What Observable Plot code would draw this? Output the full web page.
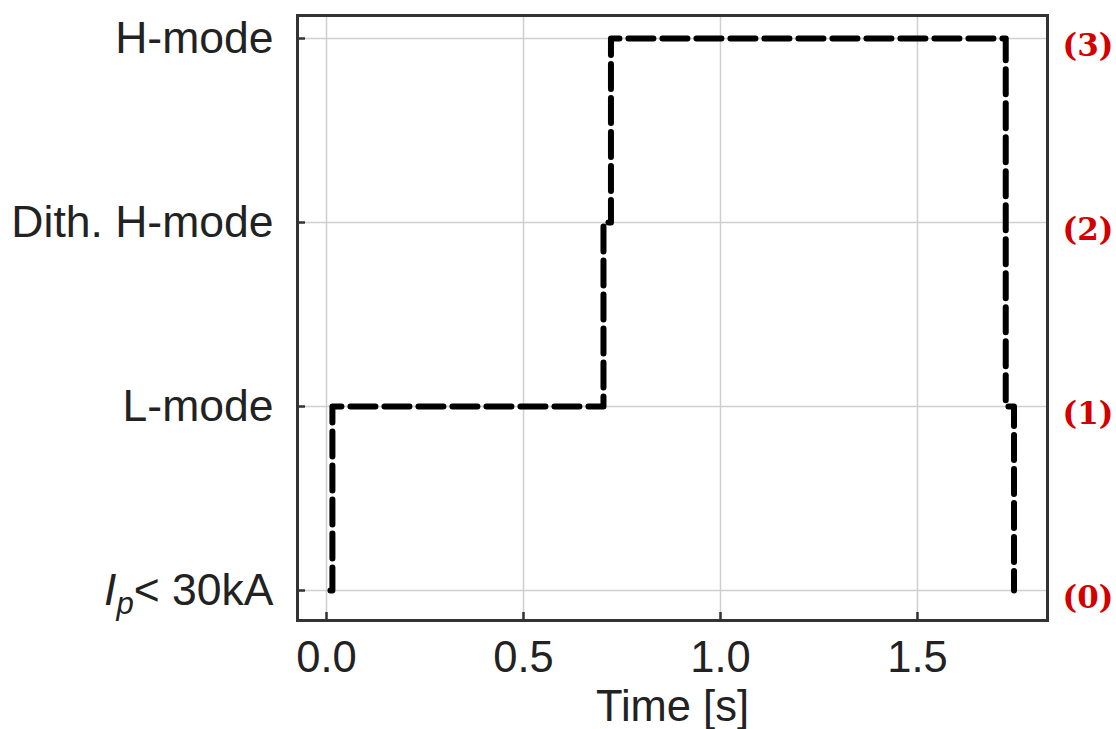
<!DOCTYPE html>
<html><head><meta charset="utf-8">
<script src="https://cdn.jsdelivr.net/npm/d3@7"></script>
<script src="https://cdn.jsdelivr.net/npm/@observablehq/plot@0.6"></script>
<style>body{margin:0;background:#fff;}</style>
</head><body><div id="chart"></div>
<script>
const times = [0.010, 0.015, 0.703, 0.722, 1.724, 1.745];
const states = [0, 1, 2, 3, 1, 0];
const xTicks = [0, 0.5, 1.0, 1.5];
const yTicks = [0, 1, 2, 3];
const yTickLabels = ["Ip< 30kA", "L-mode", "Dith. H-mode", "H-mode"];
const rightLabels = ["(0)", "(1)", "(2)", "(3)"];
const xLabel = "Time [s]";

const data = times.map((t, i) => ({t, s: states[i]}));
const W = 1116, H = 729, mL = 297, mR = 69, mT = 15, mB = 109;
const pw = W - mL - mR, ph = H - mT - mB;

const chart = Plot.plot({
  width: W, height: H,
  marginLeft: mL, marginRight: mR, marginTop: mT, marginBottom: mB,
  style: {fontFamily: "'Liberation Sans', Arial, sans-serif", background: "#fff", color: "#222"},
  x: {domain: [-0.0736, 1.830]},
  y: {domain: [-0.163, 3.125]},
  marks: [
    Plot.gridX(xTicks, {stroke: "#cfcfcf", strokeOpacity: 1, strokeWidth: 1.5}),
    Plot.gridY(yTicks, {stroke: "#cfcfcf", strokeOpacity: 1, strokeWidth: 1.5}),
    Plot.line(data, {x: "t", y: "s", curve: "step-after", stroke: "#000", strokeWidth: 6, strokeDasharray: "25,9"}),
    Plot.tickX(xTicks, {x: d => d, insetTop: ph - 8, stroke: "#333", strokeWidth: 2.5}),
    Plot.tickY(yTicks, {y: d => d, insetRight: pw - 8, stroke: "#333", strokeWidth: 2.5}),
    Plot.axisX(xTicks, {tickSize: 0, tickPadding: 21, fontSize: 43.5, tickFormat: d => d.toFixed(1), label: null, fill: "#222"}),
    Plot.axisY(yTicks, {tickSize: 0, tickPadding: 24, fontSize: 44.5, tickFormat: d => yTickLabels[d], label: null, fill: "#222"}),
    Plot.text(yTicks, {y: d => d, frameAnchor: "right", dx: 15, dy: 8, textAnchor: "start", text: d => rightLabels[d], fill: "#d40000", fontWeight: "bold", fontFamily: "'DejaVu Serif', serif", fontSize: 31}),
    Plot.text([xLabel], {frameAnchor: "bottom", dy: 100, lineAnchor: "bottom", text: d => d, fontSize: 43.5, fill: "#222"}),
    Plot.frame({stroke: "#333", strokeWidth: 3})
  ]
});
document.getElementById("chart").appendChild(chart);

// Format the "Ip< 30kA" label with italic I and subscript p
d3.select(chart).selectAll("text").each(function() {
  if (this.textContent === "Ip< 30kA") {
    const t = d3.select(this);
    t.text("");
    t.append("tspan").attr("font-style", "italic").text("I");
    t.append("tspan").attr("font-style", "italic").attr("font-size", "0.7em").attr("dy", "0.3em").text("p");
    t.append("tspan").attr("dy", "-0.21em").text("< 30kA");
  }
});
</script>
</body></html>
